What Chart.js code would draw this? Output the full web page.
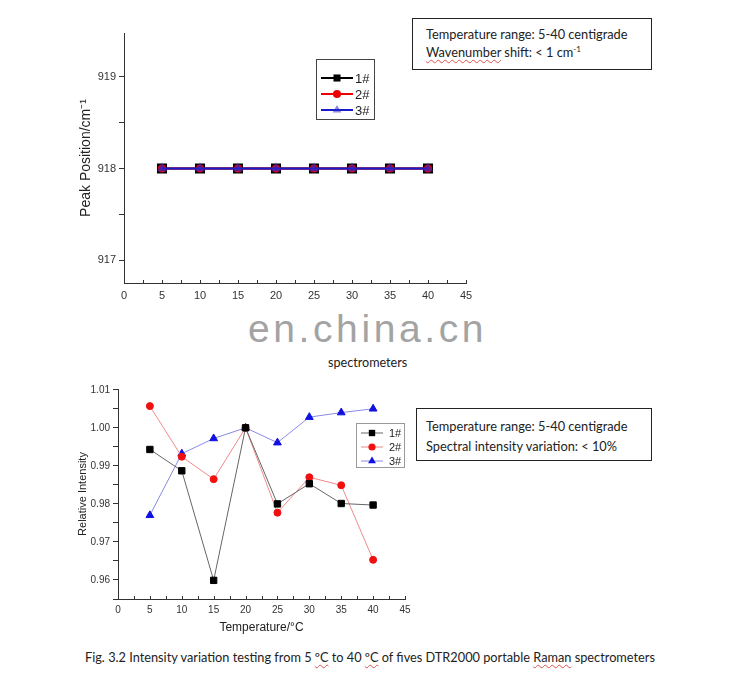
<!DOCTYPE html>
<html>
<head>
<meta charset="utf-8">
<script src="https://cdn.jsdelivr.net/npm/chart.js@4.4.1/dist/chart.umd.min.js"></script>
<style>
  body { margin: 0; background: #fff; width: 729px; height: 691px; position: relative; overflow: hidden; font-family: Lato, "Liberation Sans", sans-serif; color: #222; }
  canvas { position: absolute; }
  #peakChart { left: 78px; top: 0; }
  #intensityChart { left: 76px; top: 380px; }
  .note { position: absolute; border: 1px solid #222; background: #fff; box-sizing: border-box; font-size: 12.8px; white-space: nowrap; }
  #noteTop { left: 412px; top: 18px; width: 240px; height: 52px; padding: 6px 0 0 13px; line-height: 18px; }
  #noteBottom { left: 416px; top: 408px; width: 236px; height: 53px; padding: 7px 0 0 9px; line-height: 20px; }
  .spell { text-decoration: underline wavy #d9534f; text-decoration-thickness: 1px; text-underline-offset: 2px; }
  sup { font-size: 8px; vertical-align: 5px; line-height: 0; }
  #watermark { position: absolute; left: 248px; top: 309px; font: 39px/39px "Liberation Sans", sans-serif; letter-spacing: 3.6px; color: #a3a3a3; }
  #cut { position: absolute; left: 328px; top: 355px; font-size: 12.6px; }
  #caption { position: absolute; left: 85px; top: 649px; font-size: 12.75px; white-space: nowrap; }
</style>
</head>
<body>
<canvas id="peakChart" width="410" height="305"></canvas>
<canvas id="intensityChart" width="340" height="255"></canvas>

<div class="note" id="noteTop">Temperature range: 5-40 centigrade<br><span class="spell">Wavenumber</span> shift: &lt; 1 cm<sup>-1</sup></div>
<div id="watermark">en.china.cn</div>
<div id="cut">spectrometers</div>
<div class="note" id="noteBottom">Temperature range: 5-40 centigrade<br>Spectral intensity variation: &lt; 10%</div>
<div id="caption">Fig. 3.2 Intensity variation testing from 5 <span class="spell">ºC</span> to 40 <span class="spell">ºC</span> of fives DTR2000 portable <span class="spell">Raman</span> spectrometers</div>

<script>
// temperatures (°C) and series names
const temps = [5, 10, 15, 20, 25, 30, 35, 40];
const seriesNames = ['1#', '2#', '3#'];

// top panel: Raman peak position (cm-1)
const peak1 = [918, 918, 918, 918, 918, 918, 918, 918];
const peak2 = [918, 918, 918, 918, 918, 918, 918, 918];
const peak3 = [918, 918, 918, 918, 918, 918, 918, 918];

// bottom panel: relative intensity
const intensity1 = [0.9943, 0.9887, 0.9599, 1.0000, 0.9800, 0.9853, 0.9801, 0.9797];
const intensity2 = [1.0057, 0.9924, 0.9865, 1.0000, 0.9777, 0.9870, 0.9849, 0.9653];
const intensity3 = [0.9770, 0.9932, 0.9972, 1.0000, 0.9961, 1.0028, 1.0040, 1.0050];

const AXIS = '#333';
const FONT = '"Liberation Sans", Arial, sans-serif';

function onStep(v, step) {
    return Math.abs(v / step - Math.round(v / step)) < 1e-6;
}

function toPoints(values) {
    return values.map((v, i) => ({ x: temps[i], y: v }));
}

function drawMarker(ctx, style, x, y, r, color) {
    ctx.fillStyle = color;
    ctx.beginPath();
    if (style === 'rect') {
        const s = r * Math.SQRT1_2;
        ctx.rect(x - s, y - s, 2 * s, 2 * s);
    } else if (style === 'triangle') {
        ctx.moveTo(x, y - r);
        ctx.lineTo(x + r * 0.87, y + r * 0.5);
        ctx.lineTo(x - r * 0.87, y + r * 0.5);
        ctx.closePath();
    } else {
        ctx.arc(x, y, r * 0.8, 0, Math.PI * 2);
    }
    ctx.fill();
}

// legend drawn as a framed box inside the plot, Origin style
const boxLegend = {
    id: 'boxLegend',
    afterDatasetsDraw(chart, args, opts) {
        const ctx = chart.ctx;
        ctx.save();
        ctx.fillStyle = '#fff';
        ctx.fillRect(opts.x, opts.y, opts.w, opts.h);
        ctx.strokeStyle = opts.frame;
        ctx.lineWidth = 1;
        ctx.strokeRect(opts.x + 0.5, opts.y + 0.5, opts.w, opts.h);
        ctx.font = opts.fontSize + 'px ' + FONT;
        ctx.textBaseline = 'middle';
        chart.data.datasets.forEach((ds, i) => {
            const cy = opts.row0 + i * opts.rowGap;
            ctx.strokeStyle = ds.borderColor;
            ctx.lineWidth = opts.lineWidth;
            ctx.beginPath();
            ctx.moveTo(opts.lineX0, cy);
            ctx.lineTo(opts.lineX1, cy);
            ctx.stroke();
            drawMarker(ctx, ds.pointStyle, (opts.lineX0 + opts.lineX1) / 2, cy, opts.marker, ds.pointBackgroundColor);
            ctx.fillStyle = '#222';
            ctx.fillText(ds.label, opts.textX, cy + 1);
        });
        ctx.restore();
    }
};

// small tick marks pointing into the plot on the x axis
const innerTicks = {
    id: 'innerTicks',
    afterDraw(chart, args, opts) {
        const ctx = chart.ctx;
        const x = chart.scales.x;
        const bottom = chart.chartArea.bottom;
        ctx.save();
        ctx.strokeStyle = AXIS;
        ctx.lineWidth = 1;
        for (let v = x.min; v <= x.max + 1e-9; v += opts.step) {
            const px = Math.round(x.getPixelForValue(v)) + 0.5;
            ctx.beginPath();
            ctx.moveTo(px, bottom);
            ctx.lineTo(px, bottom - opts.length);
            ctx.stroke();
        }
        ctx.restore();
    }
};

function xScale(height, fontSize, pad, title) {
    return {
        type: 'linear', min: 0, max: 45,
        afterFit: s => { s.height = height; },
        ticks: { stepSize: 5, padding: pad, maxRotation: 0, color: AXIS, font: { family: FONT, size: fontSize } },
        grid: { drawOnChartArea: false, drawTicks: false },
        border: { color: AXIS, width: 1 },
        title: title
    };
}

// y ticks every half unit (minor ones unlabeled), rebuilt so the axis ends are not forced in
function yScale(min, max, step, major, width, fontSize, fmt, title) {
    return {
        min: min, max: max,
        afterFit: s => { s.width = width; },
        afterBuildTicks: s => {
            const ticks = [];
            for (let k = Math.ceil(min / step - 1e-6); k * step <= max + 1e-9; k++) {
                ticks.push({ value: +(k * step).toFixed(6) });
            }
            s.ticks = ticks;
        },
        ticks: { stepSize: step, padding: 3, color: AXIS, font: { family: FONT, size: fontSize },
                 callback: v => onStep(v, major) ? fmt(v) : '' },
        grid: { drawOnChartArea: false, drawTicks: true, tickLength: 5, color: AXIS },
        border: { color: AXIS, width: 1 },
        title: title
    };
}

new Chart(document.getElementById('peakChart').getContext('2d'), {
    type: 'line',
    data: {
        datasets: [
            { label: seriesNames[0], data: toPoints(peak1), borderColor: '#000', backgroundColor: '#000',
              pointBackgroundColor: '#000', pointBorderColor: '#000', pointStyle: 'rect', pointRadius: 5.7, borderWidth: 2, order: 3 },
            { label: seriesNames[1], data: toPoints(peak2), borderColor: '#e00', backgroundColor: '#e00',
              pointBackgroundColor: '#e00', pointBorderColor: '#e00', pointStyle: 'circle', pointRadius: 3, borderWidth: 2, order: 2 },
            { label: seriesNames[2], data: toPoints(peak3), borderColor: '#1a1ad0', backgroundColor: '#1a1ad0',
              pointBackgroundColor: 'rgba(40,40,200,0.55)', pointBorderColor: 'rgba(40,40,200,0.55)', pointStyle: 'triangle', pointRadius: 4, borderWidth: 2, order: 1 }
        ]
    },
    options: {
        responsive: false,
        animation: false,
        devicePixelRatio: 1,
        layout: { padding: { left: 0, right: 22, top: 33, bottom: 0 } },
        scales: {
            x: xScale(22, 11, 6, { display: false }),
            y: yScale(916.75, 919.48, 0.5, 1, 46, 11, v => String(v),
                { display: true, text: 'Peak Position/cm⁻¹', color: '#222', padding: 0, font: { family: FONT, size: 14 } })
        },
        plugins: {
            legend: { display: false },
            tooltip: { enabled: false },
            innerTicks: { step: 2.5, length: 3 },
            boxLegend: { x: 238, y: 59, w: 58, h: 60, frame: '#444', row0: 78, rowGap: 16,
                         lineX0: 243, lineX1: 275, lineWidth: 2, marker: 5, textX: 277, fontSize: 13 }
        }
    },
    plugins: [innerTicks, boxLegend]
});

new Chart(document.getElementById('intensityChart').getContext('2d'), {
    type: 'line',
    data: {
        datasets: [
            { label: seriesNames[0], data: toPoints(intensity1), borderColor: '#666', backgroundColor: '#000',
              pointBackgroundColor: '#000', pointBorderColor: '#000', pointStyle: 'rect', pointRadius: 4.5, borderWidth: 1 },
            { label: seriesNames[1], data: toPoints(intensity2), borderColor: '#f08a8a', backgroundColor: '#f01010',
              pointBackgroundColor: '#f01010', pointBorderColor: '#f01010', pointStyle: 'circle', pointRadius: 3.5, borderWidth: 1 },
            { label: seriesNames[2], data: toPoints(intensity3), borderColor: '#8a8ae6', backgroundColor: '#1010e0',
              pointBackgroundColor: '#1010e0', pointBorderColor: '#1010e0', pointStyle: 'triangle', pointRadius: 4.5, borderWidth: 1 }
        ]
    },
    options: {
        responsive: false,
        animation: false,
        devicePixelRatio: 1,
        layout: { padding: { left: 0, right: 11, top: 7, bottom: 0 } },
        scales: {
            x: xScale(36, 10, 5, { display: true, text: 'Temperature/°C', color: '#222', padding: 0, font: { family: FONT, size: 12 } }),
            y: yScale(0.955, 1.0102, 0.005, 0.01, 42, 10, v => v.toFixed(2),
                { display: true, text: 'Relative Intensity', color: '#222', padding: 0, font: { family: FONT, size: 11 } })
        },
        plugins: {
            legend: { display: false },
            tooltip: { enabled: false },
            innerTicks: { step: 2.5, length: 3 },
            boxLegend: { x: 280, y: 43, w: 48, h: 44, frame: '#999', row0: 53, rowGap: 14,
                         lineX0: 285, lineX1: 307, lineWidth: 1, marker: 4.5, textX: 313, fontSize: 11 }
        }
    },
    plugins: [innerTicks, boxLegend]
});
</script>
</body>
</html>
